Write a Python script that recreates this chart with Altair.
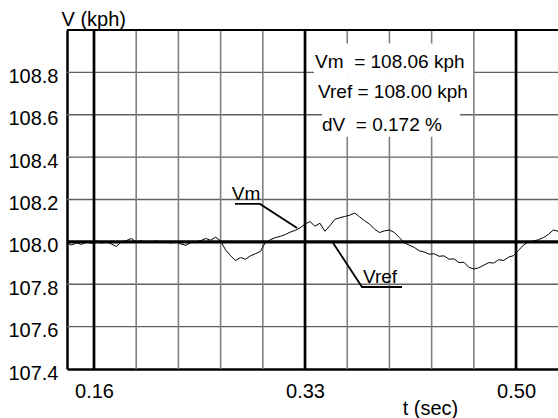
import altair as alt
import pandas as pd

FONT = "Liberation Sans"

# sampled time (s) and measured speed Vm (kph)
t_vals = [
    0.138, 0.142, 0.146, 0.150, 0.154, 0.158, 0.162, 0.166, 0.170, 0.174,
    0.178, 0.182, 0.186, 0.190, 0.194, 0.198, 0.202, 0.206, 0.210, 0.214,
    0.218, 0.222, 0.226, 0.230, 0.234, 0.238, 0.242, 0.246, 0.250, 0.254,
    0.258, 0.262, 0.266, 0.270, 0.274, 0.278, 0.282, 0.286, 0.290, 0.294,
    0.298, 0.302, 0.306, 0.310, 0.314, 0.318, 0.322, 0.326, 0.330, 0.334,
    0.338, 0.342, 0.346, 0.350, 0.354, 0.358, 0.362, 0.366, 0.370, 0.374,
    0.378, 0.382, 0.386, 0.390, 0.394, 0.398, 0.402, 0.406, 0.410, 0.414,
    0.418, 0.422, 0.426, 0.430, 0.434, 0.438, 0.442, 0.446, 0.450, 0.454,
    0.458, 0.462, 0.466, 0.470, 0.474, 0.478, 0.482, 0.486, 0.490, 0.494,
    0.498, 0.502, 0.506, 0.510, 0.514, 0.518, 0.522, 0.526, 0.530, 0.534,
]
vm_vals = [
    107.995, 107.985, 107.995, 107.988, 108.000, 107.993, 108.004, 107.994, 108.000, 107.990,
    107.978, 108.000, 108.006, 108.016, 108.000, 108.005, 107.998, 108.000, 108.004, 108.000,
    108.000, 107.995, 108.000, 107.990, 107.984, 107.996, 108.000, 108.006, 108.016, 108.008,
    108.022, 108.004, 107.962, 107.935, 107.912, 107.926, 107.918, 107.934, 107.944, 107.955,
    107.996, 108.010, 108.020, 108.026, 108.034, 108.046, 108.054, 108.066, 108.084, 108.096,
    108.074, 108.088, 108.050, 108.076, 108.106, 108.114, 108.120, 108.126, 108.136, 108.118,
    108.100, 108.084, 108.060, 108.044, 108.052, 108.056, 108.044, 108.020, 107.996, 107.984,
    107.974, 107.958, 107.952, 107.942, 107.944, 107.932, 107.934, 107.918, 107.920, 107.902,
    107.904, 107.880, 107.872, 107.878, 107.890, 107.902, 107.900, 107.916, 107.912, 107.928,
    107.935, 107.960, 107.985, 108.000, 108.004, 108.010, 108.020, 108.035, 108.056, 108.050,
]
vref_value = 108.0

x_domain = [0.13825, 0.5338]
y_domain = [107.4, 109.0]
x_major = [0.16, 0.33, 0.50]
x_minor = [0.194, 0.228, 0.262, 0.296, 0.364, 0.398, 0.432, 0.466]
y_ticks = [107.4, 107.6, 107.8, 108.0, 108.2, 108.4, 108.6, 108.8]
y_grid = [107.6, 107.8, 108.2, 108.4, 108.6, 108.8]

NB = "\u00a0"
info_lines = ["Vm" + NB + " = 108.06 kph", "Vref = 108.00 kph", "dV" + NB + " = 0.172 %"]
info_x = [0.3381, 0.3405, 0.3437]
info_y = [108.851, 108.709, 108.553]
box_x1 = [0.3372, 0.3390, 0.3437]
box_x2 = [0.4654, 0.4630, 0.4548]
box_y1 = [108.936, 108.780, 108.633]
box_y2 = [108.780, 108.633, 108.496]

# leader lines for series labels (data coords)
vm_leader_t = [0.2736, 0.2937, 0.3236]
vm_leader_v = [108.179, 108.179, 108.066]
vref_leader_t = [0.3526, 0.3759, 0.4081]
vref_leader_v = [107.995, 107.787, 107.787]
label_text = ["Vm", "Vref"]
label_t = [0.2825, 0.3904]
label_v = [108.200, 107.805]

xs = alt.Scale(domain=x_domain, nice=False, zero=False)
ys = alt.Scale(domain=y_domain, nice=False, zero=False)

sig = pd.DataFrame({"t": t_vals, "v": vm_vals})

base_x_axis = alt.Axis(values=x_major, format=".2f", grid=False, ticks=False,
                       domainColor="black", domainWidth=2.5, labelFont=FONT,
                       labelFontSize=20, labelColor="black", labelPadding=12,
                       title="t (sec)", titleFont=FONT, titleFontSize=20,
                       titleFontWeight="normal", titleColor="black",
                       titleX=363, titleY=45, titleAlign="center",
                       titleBaseline="alphabetic")
base_y_axis = alt.Axis(values=y_ticks, format=".1f", grid=False, ticks=False,
                       domainColor="black", domainWidth=2.5, labelFont=FONT,
                       labelFontSize=20, labelColor="black", labelPadding=9,
                       labelBaseline="middle", labelOffset=4,
                       title="V (kph)", titleFont=FONT, titleFontSize=20,
                       titleFontWeight="normal", titleColor="black",
                       titleAngle=0, titleX=-6, titleY=-5, titleAlign="left",
                       titleBaseline="alphabetic")

hgrid = alt.Chart(pd.DataFrame({"y": y_grid})).mark_rule(
    color="#606060", strokeWidth=1.3).encode(
    y=alt.Y("y:Q", scale=ys, axis=base_y_axis))
vgrid = alt.Chart(pd.DataFrame({"x": x_minor})).mark_rule(
    color="#808080", strokeWidth=1.6).encode(
    x=alt.X("x:Q", scale=xs, axis=base_x_axis))

boxes = alt.Chart(pd.DataFrame({"x1": box_x1, "x2": box_x2, "y1": box_y1, "y2": box_y2})).mark_rect(
    color="white").encode(x=alt.X("x1:Q", scale=xs), x2="x2:Q",
                          y=alt.Y("y1:Q", scale=ys), y2="y2:Q")

vmajor = alt.Chart(pd.DataFrame({"x": x_major})).mark_rule(
    color="black", strokeWidth=2.7).encode(x=alt.X("x:Q", scale=xs))
top_border = alt.Chart(pd.DataFrame({"y": [y_domain[1]]})).mark_rule(
    color="black", strokeWidth=2).encode(y=alt.Y("y:Q", scale=ys))
vref = alt.Chart(pd.DataFrame({"y": [vref_value]})).mark_rule(
    color="black", strokeWidth=3.2).encode(y=alt.Y("y:Q", scale=ys))

line = alt.Chart(sig).mark_line(color="black", strokeWidth=1, clip=True).encode(
    x=alt.X("t:Q", scale=xs), y=alt.Y("v:Q", scale=ys))

lead1 = alt.Chart(pd.DataFrame({"t": vm_leader_t, "v": vm_leader_v, "o": [0, 1, 2]})).mark_line(
    color="black", strokeWidth=1.8).encode(x=alt.X("t:Q", scale=xs), y=alt.Y("v:Q", scale=ys), order="o:O")
lead2 = alt.Chart(pd.DataFrame({"t": vref_leader_t, "v": vref_leader_v, "o": [0, 1, 2]})).mark_line(
    color="black", strokeWidth=1.8).encode(x=alt.X("t:Q", scale=xs), y=alt.Y("v:Q", scale=ys), order="o:O")

labels = alt.Chart(pd.DataFrame({"t": label_t, "v": label_v, "s": label_text})).mark_text(
    font=FONT, fontSize=19, color="black", align="center", baseline="alphabetic").encode(
    x=alt.X("t:Q", scale=xs), y=alt.Y("v:Q", scale=ys), text="s:N")

info = alt.Chart(pd.DataFrame({"t": info_x, "v": info_y, "s": info_lines})).mark_text(
    font=FONT, fontSize=19, color="black", align="left", baseline="middle").encode(
    x=alt.X("t:Q", scale=xs), y=alt.Y("v:Q", scale=ys), text="s:N")

chart = alt.layer(hgrid, vgrid, boxes, vmajor, top_border, vref, line, lead1, lead2,
                  labels, info).properties(
    width=491, height=339,
    autosize=alt.AutoSizeParams(type="none"),
    padding={"left": 67, "top": 30, "right": 0, "bottom": 49},
    background="white",
).configure_view(stroke=None)

chart.save("out.html", embed_options={"renderer": "svg", "actions": False})
